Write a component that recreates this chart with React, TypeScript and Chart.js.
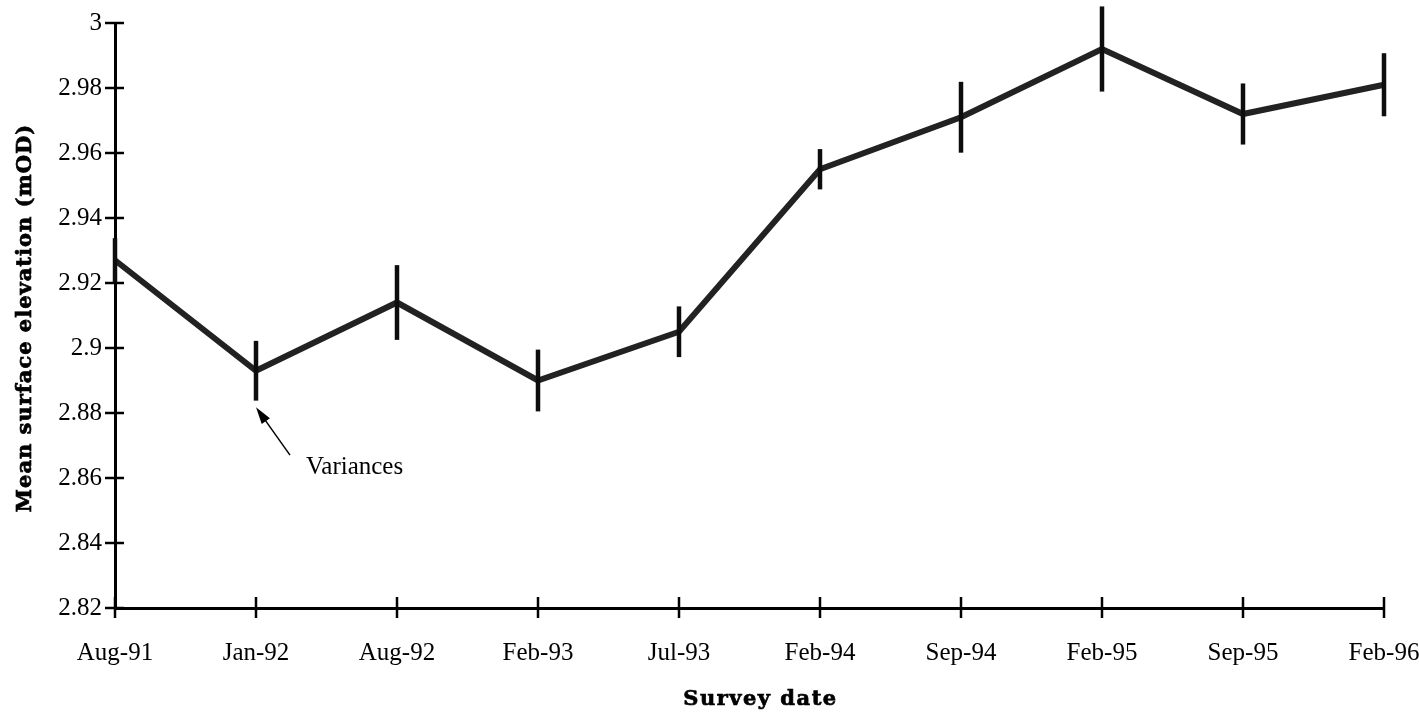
import { useEffect, useRef } from 'react';
import { Chart, registerables } from 'chart.js';

Chart.register(...registerables);

// ---- data ----
const surveyDates = ['Aug-91', 'Jan-92', 'Aug-92', 'Feb-93', 'Jul-93', 'Feb-94', 'Sep-94', 'Feb-95', 'Sep-95', 'Feb-96'];
const meanElevation = [2.927, 2.893, 2.914, 2.890, 2.905, 2.955, 2.971, 2.992, 2.972, 2.981];
const variance = [0.0068, 0.0092, 0.0115, 0.0095, 0.0078, 0.0062, 0.0109, 0.0131, 0.0094, 0.0097];
const yMin = 2.82;
const yMax = 3.0;
const yStep = 0.02;
const xTitle = 'Survey date';
const yTitle = 'Mean surface elevation (mOD)';
const annotationText = 'Variances';
const annotationIndex = 1;
const annotationValue = 2.8818;

const TICK_FONT = 'Liberation Serif';

export default function App() {
  const ref = useRef<HTMLCanvasElement>(null);

  useEffect(() => {
    document.body.style.margin = '0';
    const canvas = ref.current;
    if (!canvas) return;

    const errorBars = {
      id: 'errorBars',
      afterDatasetsDraw(chart: any) {
        const { ctx } = chart;
        const xs = chart.scales.x;
        const ys = chart.scales.y;
        ctx.save();
        ctx.strokeStyle = '#0d0d0d';
        ctx.lineWidth = 4.5;
        ctx.lineCap = 'butt';
        meanElevation.forEach((v, i) => {
          const x = xs.getPixelForValue(i);
          const y1 = ys.getPixelForValue(v + variance[i]);
          const y2 = ys.getPixelForValue(v - variance[i]);
          ctx.beginPath();
          ctx.moveTo(x, y1);
          ctx.lineTo(x, y2);
          ctx.stroke();
        });
        ctx.restore();
      },
    };

    const decorations = {
      id: 'decorations',
      afterDraw(chart: any) {
        const { ctx, chartArea } = chart;
        const xs = chart.scales.x;
        const ys = chart.scales.y;
        ctx.save();
        // crossing tick marks
        ctx.strokeStyle = '#000';
        ctx.lineWidth = 2.5;
        ys.ticks.forEach((_t: any, i: number) => {
          const y = ys.getPixelForTick(i);
          ctx.beginPath();
          ctx.moveTo(chartArea.left - 10, y);
          ctx.lineTo(chartArea.left + 9, y);
          ctx.stroke();
        });
        xs.ticks.forEach((_t: any, i: number) => {
          const x = xs.getPixelForTick(i);
          ctx.beginPath();
          ctx.moveTo(x, chartArea.bottom - 11);
          ctx.lineTo(x, chartArea.bottom + 10);
          ctx.stroke();
        });

        // annotation arrow
        const tipX = xs.getPixelForValue(annotationIndex);
        const tipY = ys.getPixelForValue(annotationValue);
        const tailX = tipX + 34;
        const tailY = tipY + 48;
        const ang = Math.atan2(tipY - tailY, tipX - tailX);
        ctx.lineWidth = 1.5;
        ctx.beginPath();
        ctx.moveTo(tailX, tailY);
        ctx.lineTo(tipX + Math.cos(ang + Math.PI) * 10, tipY + Math.sin(ang + Math.PI) * 10);
        ctx.stroke();
        const hl = 17;
        const hw = 5;
        const bx = tipX - Math.cos(ang) * hl;
        const by = tipY - Math.sin(ang) * hl;
        ctx.fillStyle = '#000';
        ctx.beginPath();
        ctx.moveTo(tipX, tipY);
        ctx.lineTo(bx + Math.sin(ang) * hw, by - Math.cos(ang) * hw);
        ctx.lineTo(bx - Math.sin(ang) * hw, by + Math.cos(ang) * hw);
        ctx.closePath();
        ctx.fill();

        ctx.font = `25px "${TICK_FONT}"`;
        ctx.textAlign = 'left';
        ctx.textBaseline = 'alphabetic';
        ctx.fillText(annotationText, tipX + 50, tipY + 67);

        // axis titles
        ctx.fillStyle = '#000';
        ctx.strokeStyle = '#000';
        ctx.lineWidth = 0.7;
        ctx.font = 'bold 21px "DejaVu Serif"';
        (ctx as any).letterSpacing = '1.5px';
        ctx.textAlign = 'center';
        const xtX = (chartArea.left + chartArea.right) / 2 + 11;
        ctx.fillText(xTitle, xtX, 705);
        ctx.strokeText(xTitle, xtX, 705);

        (ctx as any).letterSpacing = '1px';
        ctx.translate(31, 318);
        ctx.rotate(-Math.PI / 2);
        ctx.fillText(yTitle, 0, 0);
        ctx.strokeText(yTitle, 0, 0);
        ctx.restore();
      },
    };

    const chart = new Chart(canvas, {
      type: 'line',
      data: {
        labels: surveyDates,
        datasets: [
          {
            data: meanElevation,
            borderColor: '#222',
            borderWidth: 6,
            pointRadius: 0,
            tension: 0,
          },
          {
            data: meanElevation,
            borderColor: 'rgba(255,255,255,0.9)',
            borderWidth: 2,
            borderDash: [2, 3],
            pointRadius: 0,
            tension: 0,
          },
        ],
      },
      options: {
        animation: false,
        responsive: false,
        devicePixelRatio: 1,
        layout: { padding: { top: 23, right: 35, left: 0, bottom: 0 } },
        plugins: { legend: { display: false }, tooltip: { enabled: false }, title: { display: false } },
        scales: {
          x: {
            offset: false,
            grid: { display: true, drawOnChartArea: false, color: 'rgba(0,0,0,0)', tickLength: 10 },
            border: { display: true, color: '#000', width: 3 },
            ticks: {
              color: '#000',
              font: { family: TICK_FONT, size: 25 },
              padding: 20,
              maxRotation: 0,
              autoSkip: false,
            },
            afterFit(s: any) {
              s.height = 105;
              s.paddingLeft = 0;
              s.paddingRight = 0;
            },
          },
          y: {
            min: yMin,
            max: yMax,
            grid: { display: true, drawOnChartArea: false, color: 'rgba(0,0,0,0)', tickLength: 10 },
            border: { display: true, color: '#000', width: 3 },
            ticks: {
              stepSize: yStep,
              color: '#000',
              font: { family: TICK_FONT, size: 25 },
              padding: 3,
              callback: (v: any) => String(Number(Number(v).toFixed(2))),
            },
            afterFit(s: any) {
              s.width = 115;
              s.paddingTop = 0;
              s.paddingBottom = 0;
            },
          },
        },
      },
      plugins: [errorBars, decorations],
    });

    return () => chart.destroy();
  }, []);

  return <canvas ref={ref} width={1419} height={713} style={{ display: 'block' }} />;
}
